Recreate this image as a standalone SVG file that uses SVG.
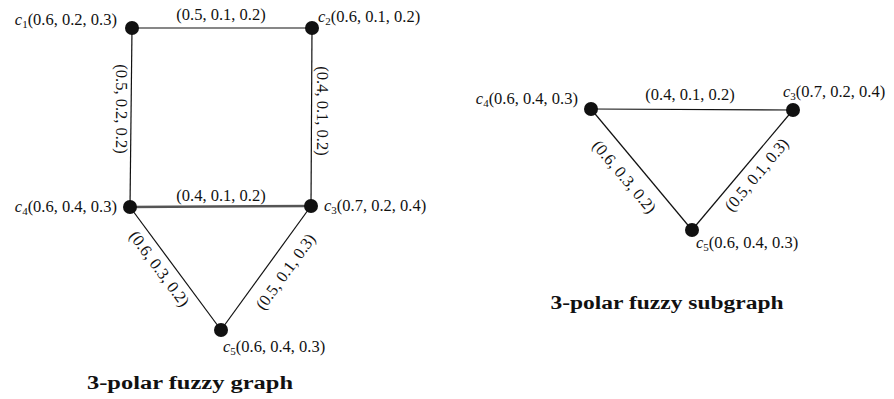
<svg xmlns="http://www.w3.org/2000/svg" width="894" height="399" viewBox="0 0 894 399">
<style>
text{font-family:"Liberation Serif","DejaVu Serif",serif;font-size:16.5px;fill:#111}
.c{font-style:italic}
.s{font-size:11px;font-style:normal}
.m{text-anchor:middle}
.e{text-anchor:end}
.t{font-weight:bold;font-size:18px;text-anchor:middle}
.edge{stroke:#111;stroke-width:1.2;fill:none}
.node{fill:#111}
</style>
<rect width="894" height="399" fill="#fff"/>
<g id="connectors">
<line class="edge" x1="132" y1="28" x2="312" y2="28"/>
<line class="edge" x1="132" y1="28" x2="130" y2="207"/>
<line class="edge" x1="312" y1="28" x2="311" y2="206"/>
<line class="edge" x1="130" y1="207" x2="311" y2="206" style="stroke:#555;stroke-width:2.6"/>
<line class="edge" x1="130" y1="207" x2="221" y2="330"/>
<line class="edge" x1="311" y1="206" x2="221" y2="330"/>
<line class="edge" x1="591" y1="109" x2="793" y2="110"/>
<line class="edge" x1="591" y1="109" x2="692" y2="230"/>
<line class="edge" x1="793" y1="110" x2="692" y2="230"/>
<text class="m" x="221" y="20">(0.5, 0.1, 0.2)</text>
<text class="m" transform="translate(116,109) rotate(90)">(0.5, 0.2, 0.2)</text>
<text class="m" transform="translate(317,111) rotate(90)">(0.4, 0.1, 0.2)</text>
<text class="m" x="221" y="201">(0.4, 0.1, 0.2)</text>
<text class="m" transform="translate(159,269) rotate(53.5) translate(0,5)">(0.6, 0.3, 0.2)</text>
<text class="m" transform="translate(286,272) rotate(-54) translate(0,5)">(0.5, 0.1, 0.3)</text>
<text class="m" x="690" y="100">(0.4, 0.1, 0.2)</text>
<text class="m" transform="translate(624,177) rotate(50) translate(0,5)">(0.6, 0.3, 0.2)</text>
<text class="m" transform="translate(757,175) rotate(-50) translate(0,5)">(0.5, 0.1, 0.3)</text>
</g>
<g id="g1c1"><circle class="node" cx="132" cy="28" r="7"/><text class="e" x="117" y="25"><tspan class="c">c</tspan><tspan class="s" dy="3">1</tspan><tspan dy="-3">(0.6, 0.2, 0.3)</tspan></text></g>
<g id="g1c2"><circle class="node" cx="312" cy="28" r="7"/><text x="318" y="22"><tspan class="c">c</tspan><tspan class="s" dy="3">2</tspan><tspan dy="-3">(0.6, 0.1, 0.2)</tspan></text></g>
<g id="g1c4"><circle class="node" cx="130" cy="207" r="7"/><text class="e" x="117" y="212"><tspan class="c">c</tspan><tspan class="s" dy="3">4</tspan><tspan dy="-3">(0.6, 0.4, 0.3)</tspan></text></g>
<g id="g1c3"><circle class="node" cx="311" cy="206" r="7"/><text x="324" y="211"><tspan class="c">c</tspan><tspan class="s" dy="3">3</tspan><tspan dy="-3">(0.7, 0.2, 0.4)</tspan></text></g>
<g id="g1c5"><circle class="node" cx="221" cy="330" r="7"/><text x="223" y="352"><tspan class="c">c</tspan><tspan class="s" dy="3">5</tspan><tspan dy="-3">(0.6, 0.4, 0.3)</tspan></text></g>
<g id="g2c4"><circle class="node" cx="591" cy="109" r="7"/><text class="e" x="578" y="104"><tspan class="c">c</tspan><tspan class="s" dy="3">4</tspan><tspan dy="-3">(0.6, 0.4, 0.3)</tspan></text></g>
<g id="g2c3"><circle class="node" cx="793" cy="110" r="7"/><text x="783" y="97"><tspan class="c">c</tspan><tspan class="s" dy="3">3</tspan><tspan dy="-3">(0.7, 0.2, 0.4)</tspan></text></g>
<g id="g2c5"><circle class="node" cx="692" cy="230" r="7"/><text x="696" y="248"><tspan class="c">c</tspan><tspan class="s" dy="3">5</tspan><tspan dy="-3">(0.6, 0.4, 0.3)</tspan></text></g>
<text class="t" x="190" y="389" textLength="206" lengthAdjust="spacingAndGlyphs">3-polar fuzzy graph</text>
<text class="t" x="667" y="309" textLength="233" lengthAdjust="spacingAndGlyphs">3-polar fuzzy subgraph</text>
</svg>
